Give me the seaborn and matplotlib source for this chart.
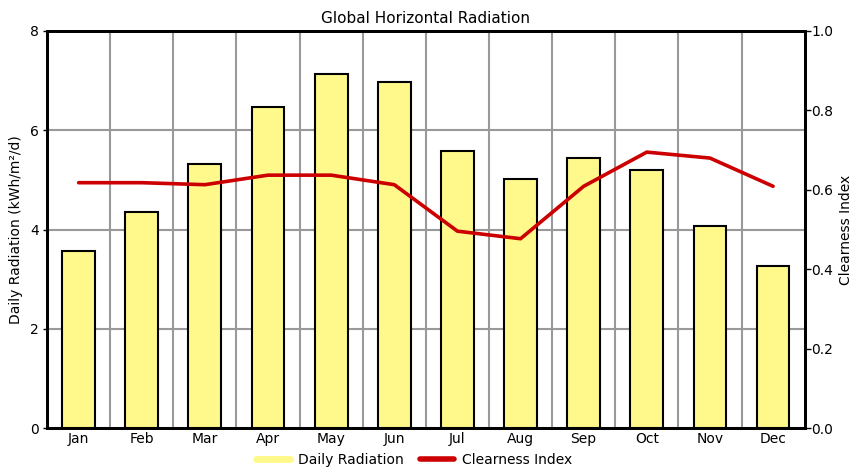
import numpy as np
import matplotlib
matplotlib.use("Agg")
import matplotlib.pyplot as plt
from matplotlib.lines import Line2D
from matplotlib.ticker import FixedLocator
import seaborn as sns

# Data
months = ["Jan", "Feb", "Mar", "Apr", "May", "Jun",
          "Jul", "Aug", "Sep", "Oct", "Nov", "Dec"]
daily_radiation = [3.56, 4.35, 5.32, 6.46, 7.13, 6.97,
                   5.58, 5.02, 5.44, 5.19, 4.07, 3.26]
clearness_index = [0.618, 0.618, 0.613, 0.637, 0.637, 0.613,
                   0.496, 0.477, 0.609, 0.695, 0.680, 0.609]

BAR_COLOR = "#FFF98C"
LINE_COLOR = "#CC0000"
GRID_COLOR = "#999999"
FS = 10

sns.set_theme(style="white")
plt.rcParams["font.family"] = ["DejaVu Sans"]
plt.rcParams.update({"text.color": "black", "axes.labelcolor": "black",
                     "xtick.color": "black", "ytick.color": "black"})

fig, ax = plt.subplots(figsize=(8.56, 4.69), dpi=100)
fig.subplots_adjust(left=0.055, right=0.940, bottom=0.087, top=0.934)

# bars (left axis)
sns.barplot(x=months, y=daily_radiation, ax=ax, color=BAR_COLOR,
            saturation=1, width=0.52, edgecolor="black", linewidth=1.5,
            zorder=3)
ax.set_ylim(0, 8)
ax.set_yticks([0, 2, 4, 6, 8])
ax.set_ylabel("Daily Radiation (kWh/m\u00b2/d)", fontsize=FS, labelpad=5)
ax.set_xlabel("")
ax.set_title("Global Horizontal Radiation", fontsize=11, pad=6)

# clearness index (right axis)
ax2 = ax.twinx()
sns.pointplot(x=months, y=clearness_index, ax=ax2, color=LINE_COLOR,
              markers="", linestyles="-", errorbar=None)
for ln in ax2.lines:
    ln.set_linewidth(2.6)
ax2.set_ylim(0, 1.0)
ax2.set_yticks([0.0, 0.2, 0.4, 0.6, 0.8, 1.0])
ax2.set_yticklabels(["0.0", "0.2", "0.4", "0.6", "0.8", "1.0"])
ax2.set_ylabel("Clearness Index", fontsize=FS, labelpad=4)
ax2.set_xlabel("")
ax.set_xlim(-0.5, len(months) - 0.5)

# grid: horizontal at major y ticks, vertical between months
ax.xaxis.set_minor_locator(FixedLocator(np.arange(0.5, len(months) - 1, 1.0)))
ax.grid(False)
ax2.grid(False)
ax.grid(True, axis="y", which="major", color=GRID_COLOR, linewidth=1.5, zorder=0)
ax.grid(True, axis="x", which="minor", color=GRID_COLOR, linewidth=1.5, zorder=0)
ax.set_axisbelow(True)

for a in (ax, ax2):
    for side in a.spines.values():
        side.set_visible(True)
        side.set_color("black")
        side.set_linewidth(2)

ax.tick_params(axis="x", which="major", length=0, labelsize=FS, pad=3)
ax.tick_params(axis="x", which="minor", length=3, color=GRID_COLOR)
ax.tick_params(axis="y", length=3, width=1, color="black", labelsize=FS, pad=3)
ax2.tick_params(axis="y", length=4, width=1, color="black", labelsize=FS, pad=1)

handles = [Line2D([0], [0], color=BAR_COLOR, linewidth=5),
           Line2D([0], [0], color=LINE_COLOR, linewidth=4)]
fig.legend(handles, ["Daily Radiation", "Clearness Index"], loc="lower center",
           bbox_to_anchor=(0.484, -0.022), ncol=2, frameon=False, fontsize=FS,
           handlelength=2.4, columnspacing=1.2, handletextpad=0.6)

fig.savefig("out.png", dpi=100)
plt.close(fig)
